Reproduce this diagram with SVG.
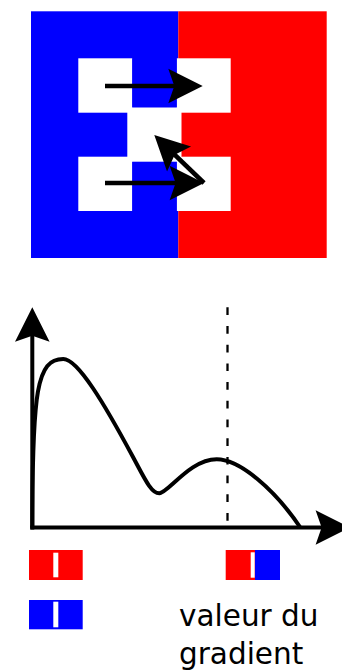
<svg xmlns="http://www.w3.org/2000/svg" width="342" height="671" viewBox="0 0 342 671">
  <style>
    .blue { fill: #0000ff; }
    .red { fill: #ff0000; }
    .white { fill: #ffffff; }
    .arrow { fill: none; stroke: #000; stroke-width: 4.6; marker-end: url(#head); }
    .axis { fill: none; stroke: #000; stroke-width: 4; marker-end: url(#head); }
    .curve { fill: none; stroke: #000; stroke-width: 4; }
    .dash { fill: none; stroke: #000; stroke-width: 2.3; stroke-dasharray: 7.7 11; }
    .label { font-family: "DejaVu Sans", sans-serif; font-size: 29.5px; fill: #000; }
  </style>
  <defs>
    <marker id="head" markerUnits="userSpaceOnUse" orient="auto" viewBox="-40 -20 42 40" markerWidth="42" markerHeight="40" refX="-26" refY="0" overflow="visible">
      <path d="M0,0 L-34.4,-17.3 L-28.4,0 L-34.4,17.3 Z" fill="#000"/>
    </marker>
  </defs>

  <g id="grid">
    <rect class="blue" x="31" y="11.3" width="147.3" height="246.7"/>
    <rect class="red" x="178.3" y="11.3" width="148.4" height="246.7"/>
    <rect class="white" x="78.3" y="58.3" width="54" height="54.4"/>
    <rect class="white" x="176.7" y="58.3" width="54" height="54.4"/>
    <rect class="white" x="78.3" y="156.7" width="54" height="54.3"/>
    <rect class="white" x="176.7" y="156.7" width="54" height="54.3"/>
    <rect class="blue" x="132.3" y="58.3" width="44.4" height="49.2"/>
    <rect class="blue" x="132.3" y="161.7" width="44.4" height="49.3"/>
    <rect class="white" x="127.3" y="107.5" width="54.2" height="54.2"/>
  </g>

  <g id="connectors">
    <line class="arrow" x1="105" y1="86" x2="176.7" y2="86"/>
    <line class="arrow" x1="105" y1="183" x2="178" y2="183"/>
    <line class="arrow" x1="204" y1="183" x2="173" y2="153.1"/>
    <line class="axis" x1="32.3" y1="529.5" x2="32.3" y2="333.3"/>
    <line class="axis" x1="30.3" y1="527.5" x2="324" y2="527.5"/>
  </g>

  <g id="plot">
    <line class="dash" x1="227.5" y1="307.3" x2="227.5" y2="527"/>
    <path class="curve" d="M32.3,527.7 C32.3,390 37,359 63.3,359 C78,359 105,405 133,457 C144.2,477.8 151,493.3 159.3,493.3 C168,493.3 190,459.3 216.7,459.3 C240,459.3 275,490 300,527"/>
  </g>

  <g id="legend-red">
    <rect class="red" x="29" y="550" width="53.7" height="30"/>
    <rect class="white" x="53.3" y="552.7" width="5" height="24.6"/>
  </g>
  <g id="legend-blue">
    <rect class="blue" x="29" y="600" width="53.7" height="29.3"/>
    <rect class="white" x="53.3" y="601.7" width="5" height="25.6"/>
  </g>
  <g id="legend-gradient">
    <rect class="red" x="225.7" y="550" width="29.3" height="30"/>
    <rect class="blue" x="255" y="550" width="25" height="30"/>
    <rect class="white" x="250.7" y="552.3" width="4" height="25.4"/>
    <text class="label" x="179" y="626">valeur du</text>
    <text class="label" x="179" y="663.5">gradient</text>
  </g>
</svg>
